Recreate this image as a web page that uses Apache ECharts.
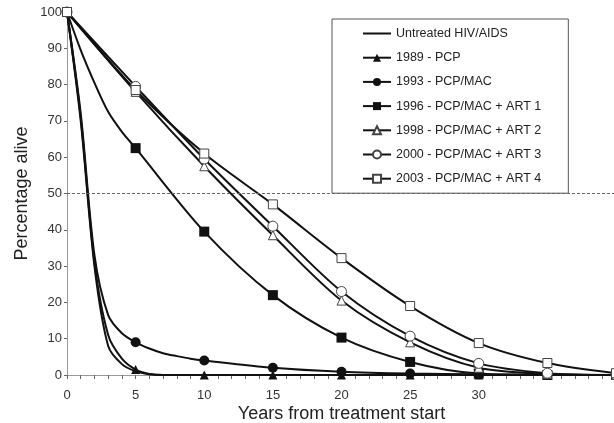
<!DOCTYPE html>
<html>
<head>
<meta charset="utf-8">
<script src="https://cdn.jsdelivr.net/npm/echarts@6/dist/echarts.min.js"></script>
<style>html,body{margin:0;padding:0;background:#fff}#c{width:614px;height:423px}</style>
</head>
<body>
<div id="c"></div>
<script>
// ---- data ----
const seriesNames = ['Untreated HIV/AIDS','1989 - PCP','1993 - PCP/MAC','1996 - PCP/MAC + ART 1','1998 - PCP/MAC + ART 2','2000 - PCP/MAC + ART 3','2003 - PCP/MAC + ART 4'];
const untreatedYears = [0,1,2,3,4,5,6,7,10];
const untreatedVals  = [100,70,30,8,3,1,0.2,0,0];
const pcp1989Years = [0,1,2,3,4,5,6,7,10,15,20,25,30,35,40];
const pcp1989Vals  = [100,71,31,11,4.5,1.5,0.3,0,0,0,0,0,0,0,0];
const mac1993Years = [0,1,2,3,4,5,6,7,8,9,10,15,20,25,30,35,40];
const mac1993Vals  = [100,72,33,16.5,11.5,9,7.3,6,5.2,4.5,4,2,0.9,0.4,0.2,0.1,0];
const art1Years = [0,1,2,3,4,5,10,15,20,25,30,35,40];
const art1Vals  = [100,89.5,80.5,72.5,67,62.5,39.5,22,10.3,3.6,0.4,0,0];
const fiveYears = [0,5,10,15,20,25,30,35,40];
const art2Vals  = [100,78,57.5,38.5,20.5,9,2,0.3,0];
const art3Vals  = [100,79.5,59.5,41,23,10.7,3.2,0.5,0];
const art4Vals  = [100,78.5,61,47,32.2,19,8.8,3.3,0.5];
const xTickLabels = [0,5,10,15,20,25,30];
const yTickLabels = [0,10,20,30,40,50,60,70,80,90,100];
const refLine = 50;

function pairs(xs, ys){ return xs.map((x,i)=>[x, ys[i]]); }
function markSize(s){ return function(v){ return (v[0] % 5 === 0) ? s : 0; }; }

const LINE = '#111';
const FONT = 'Liberation Sans, Arial, sans-serif';
const base = {type:'line', smooth:0.3, lineStyle:{color:LINE, width:2}, emphasis:{disabled:true}};

const series = [
  Object.assign({}, base, {name:seriesNames[0], data:pairs(untreatedYears, untreatedVals), symbol:'none', itemStyle:{color:LINE},
    markLine:{silent:true, symbol:'none', label:{show:false}, lineStyle:{color:'#666', type:[3,2], width:1}, data:[{yAxis:refLine}]}}),
  Object.assign({}, base, {name:seriesNames[1], data:pairs(pcp1989Years, pcp1989Vals), symbol:'triangle', symbolSize:markSize(9), itemStyle:{color:LINE}}),
  Object.assign({}, base, {name:seriesNames[2], data:pairs(mac1993Years, mac1993Vals), symbol:'circle', symbolSize:markSize(10), itemStyle:{color:LINE}}),
  Object.assign({}, base, {name:seriesNames[3], data:pairs(art1Years, art1Vals), symbol:'rect', symbolSize:markSize(10), itemStyle:{color:LINE}}),
  Object.assign({}, base, {name:seriesNames[4], data:pairs(fiveYears, art2Vals), symbol:'triangle', symbolSize:9, itemStyle:{color:'#fff', borderColor:'#444', borderWidth:1}}),
  Object.assign({}, base, {name:seriesNames[5], data:pairs(fiveYears, art3Vals), symbol:'circle', symbolSize:10, itemStyle:{color:'#fff', borderColor:'#444', borderWidth:1}}),
  Object.assign({}, base, {name:seriesNames[6], data:pairs(fiveYears, art4Vals), symbol:'rect', symbolSize:9, itemStyle:{color:'#fff', borderColor:'#444', borderWidth:1}})
];

const legendData = seriesNames.map(function(n, i){
  return i === 0 ? {name:n, itemStyle:{opacity:0}} : {name:n};
});

const chart = echarts.init(document.getElementById('c'), null, {renderer:'canvas'});
chart.setOption({
  animation:false,
  backgroundColor:'#fff',
  textStyle:{fontFamily:FONT},
  grid:{left:67, right:-2, top:12, bottom:48, containLabel:false, outerBoundsMode:'none'},
  legend:{
    orient:'vertical', left:332, top:19,
    padding:[8,27,8,30], itemGap:11.2, itemWidth:28, itemHeight:10,
    backgroundColor:'#fff', borderColor:'#555', borderWidth:1,
    textStyle:{fontSize:12.5, color:'#222', fontFamily:FONT},
    data:legendData
  },
  xAxis:{
    type:'value', min:0, max:40, interval:1,
    name:'Years from treatment start', nameLocation:'middle', nameGap:30, nameMoveOverlap:false,
    nameTextStyle:{fontSize:18, color:'#222', fontFamily:FONT},
    axisLine:{lineStyle:{color:'#999', width:1}},
    axisTick:{show:true, length:4, lineStyle:{color:'#666'}},
    axisLabel:{fontSize:13, color:'#333', margin:14, fontFamily:FONT, formatter:function(v){ return xTickLabels.indexOf(v) >= 0 ? String(v) : ''; }},
    splitLine:{show:false}
  },
  yAxis:{
    type:'value', min:0, max:100, interval:10,
    name:'Percentage alive', nameLocation:'middle', nameGap:36, nameMoveOverlap:false,
    nameTextStyle:{fontSize:18, color:'#222', fontFamily:FONT},
    axisLine:{show:true, lineStyle:{color:'#999', width:1}},
    axisTick:{show:true, length:3, lineStyle:{color:'#666'}},
    axisLabel:{fontSize:13, color:'#333', margin:5, fontFamily:FONT, formatter:function(v){ return yTickLabels.indexOf(v) >= 0 ? String(v) : ''; }},
    splitLine:{show:false}
  },
  series:series
});
</script>
</body>
</html>
